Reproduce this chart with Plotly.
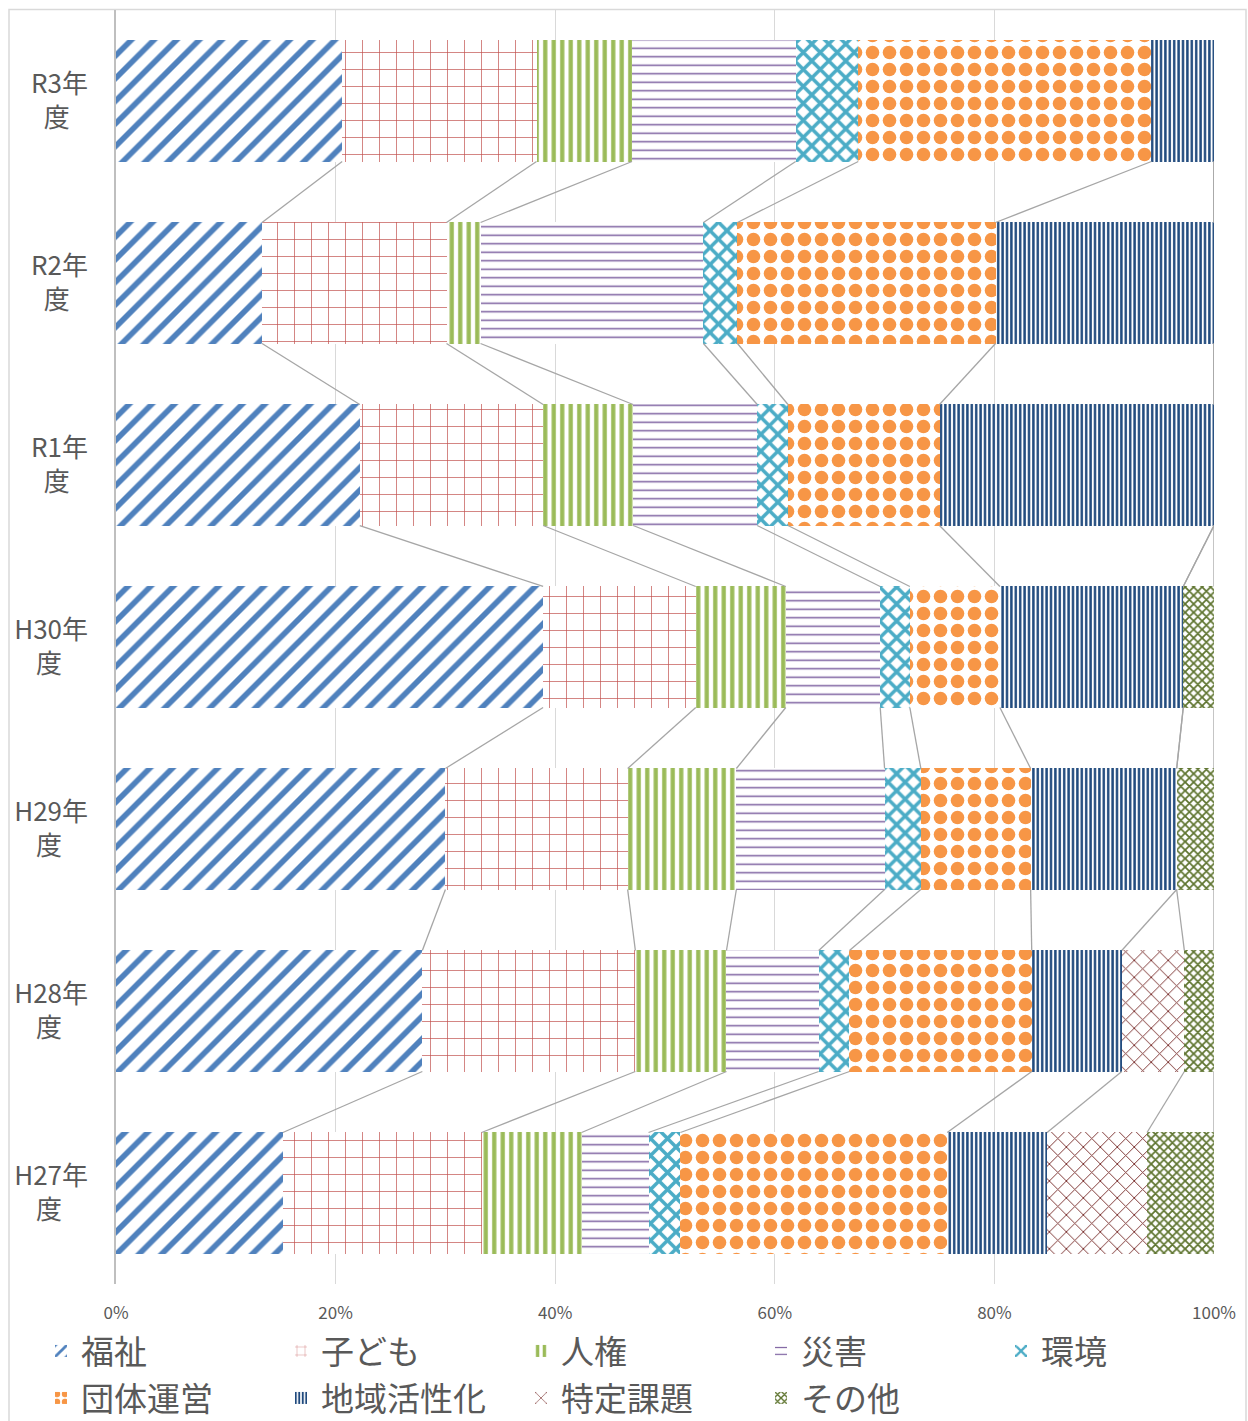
import numpy as np
import plotly.graph_objects as go

# categories, top to bottom
categories = ["R3年度", "R2年度", "R1年度", "H30年度", "H29年度", "H28年度", "H27年度"]
tick_labels = ["R3年<br>度\u2002\u2009", "R2年<br>度\u2002\u2009", "R1年<br>度\u2002\u2009",
               "H30年<br>度\u3000", "H29年<br>度\u3000", "H28年<br>度\u3000", "H27年<br>度\u3000"]
x_ticks = [0, 20, 40, 60, 80, 100]
x_tick_labels = ["0%", "20%", "40%", "60%", "80%", "100%"]

# share of each field (%), same order as categories
fukushi = [20.6, 13.3, 22.2, 38.9, 30.0, 27.9, 15.2]
kodomo = [17.7, 16.8, 16.7, 13.9, 16.6, 19.4, 18.1]
jinken = [8.7, 3.1, 8.2, 8.2, 9.9, 8.3, 9.1]
saigai = [14.9, 20.3, 11.3, 8.6, 13.5, 8.4, 6.1]
kankyo = [5.7, 3.1, 2.8, 2.7, 3.3, 2.8, 2.9]
dantai = [26.7, 23.5, 13.8, 8.2, 10.0, 16.6, 24.3]
chiiki = [5.7, 19.9, 25.0, 16.7, 13.3, 8.2, 9.1]
tokutei = [0, 0, 0, 0, 0, 5.7, 9.1]
sonota = [0, 0, 0, 2.8, 3.4, 2.7, 6.1]

series = [
    # name, values, colour, pattern shape, pattern size, solidity, legend
    ("福祉", fukushi, "#4F81BD", "/", 16, 0.35, "legend"),
    ("子ども", kodomo, "#C0504D", "+", 17, 0.08, "legend"),
    ("人権", jinken, "#9BBB59", "|", 8.5, 0.5, "legend"),
    ("災害", saigai, "#8064A2", "-", 8.5, 0.18, "legend"),
    ("環境", kankyo, "#4BACC6", "x", 12, 0.5, "legend"),
    ("団体運営", dantai, "#F79646", ".", 17, 0.5, "legend2"),
    ("地域活性化", chiiki, "#1F497D", "|", 4.4, 0.55, "legend2"),
    ("特定課題", tokutei, "#772C2A", "x", 12, 0.15, "legend2"),
    ("その他", sonota, "#5F7530", "x", 6, 0.5, "legend2"),
]

ypos = np.arange(len(categories))
bar_w = 0.665
font = "Noto Sans CJK JP, Noto Sans, sans-serif"
grey = "#595959"

fig = go.Figure()

for name, vals, col, shp, sz, sol, lg in series:
    fig.add_trace(go.Bar(
        y=ypos, x=vals, name=name, orientation="h", width=bar_w,
        marker=dict(color="white", line_width=0,
                    pattern=dict(shape=shp, fgcolor=col, bgcolor="white", fgopacity=1,
                                 size=sz, solidity=sol, fillmode="replace")),
        legend=lg,
    ))

# series lines between neighbouring bars
totals = np.sum([s[1] for s in series], axis=0)
cum = np.cumsum([np.array(s[1]) / totals * 100 for s in series], axis=0)
lx, ly = [], []
for k in range(cum.shape[0]):
    for i in range(len(categories) - 1):
        lx += [cum[k][i], cum[k][i + 1], None]
        ly += [ypos[i] + bar_w / 2, ypos[i + 1] - bar_w / 2, None]
fig.add_trace(go.Scatter(x=lx, y=ly, mode="lines", line=dict(color="#A6A6A6", width=1.3),
                         showlegend=False, hoverinfo="skip"))

pw, ph = 1098, 1274
leg = dict(orientation="h", xref="paper", yref="paper", x=(41 - 116) / pw, yanchor="middle",
           entrywidth=195, bgcolor="rgba(0,0,0,0)", font=dict(size=33, color=grey),
           traceorder="normal")

fig.update_layout(
    width=1248, height=1421,
    margin=dict(l=116, r=34, t=10, b=137, autoexpand=False),
    barmode="stack", barnorm="percent",
    plot_bgcolor="white", paper_bgcolor="white",
    font=dict(family=font, color=grey),
    legend=dict(leg, y=(1284 - 1351) / ph),
    legend2=dict(leg, y=(1284 - 1398) / ph),
    shapes=[dict(type="rect", xref="paper", yref="paper",
                 x0=(9 - 116) / pw, x1=(1246 - 116) / pw,
                 y0=-0.2, y1=1.0004,
                 line=dict(color="#D9D9D9", width=1.5), layer="below")],
)
fig.update_xaxes(range=[0, 100], tickvals=x_ticks, ticktext=x_tick_labels, automargin=False,
                 showgrid=True, gridcolor="#D9D9D9", gridwidth=1.3, zeroline=False,
                 tickfont=dict(size=17, color=grey), ticklabelstandoff=17, fixedrange=True)
fig.update_yaxes(range=[6.5, -0.5], tickvals=ypos, ticktext=tick_labels, automargin=False,
                 showgrid=False, zeroline=False, showline=True, linecolor="#BFBFBF", linewidth=1.5,
                 tickfont=dict(size=26, color=grey), ticklabelstandoff=21)

fig.write_html("out.html", config={"displayModeBar": False},
               post_script="document.body.style.margin='0';")
